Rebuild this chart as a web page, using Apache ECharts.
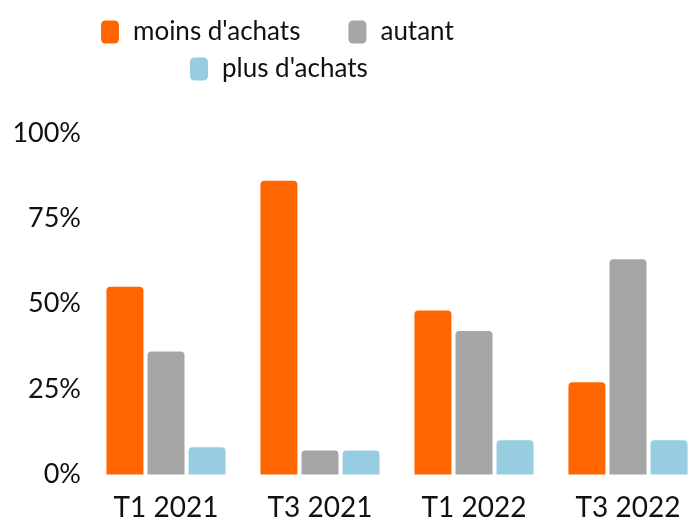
<!DOCTYPE html>
<html>
<head>
<meta charset="utf-8">
<script src="https://cdn.jsdelivr.net/npm/echarts@6/dist/echarts.min.js"></script>
<style>
  html, body { margin: 0; padding: 0; background: #fff; }
  #chart { width: 689px; height: 525px; }
</style>
</head>
<body>
<div id="chart"></div>
<script>
var categories = ["T1 2021", "T3 2021", "T1 2022", "T3 2022"];
var moinsAchats = [55, 86, 48, 27];
var autant = [36, 7, 42, 63];
var plusAchats = [8, 7, 10, 10];
var yTicks = [0, 25, 50, 75, 100];

var fontFamily = "Lato, 'Open Sans', sans-serif";

var chart = echarts.init(document.getElementById("chart"));

function barSeries(name, data, color) {
    return {
        name: name,
        type: "bar",
        data: data,
        barWidth: 37,
        barGap: "11%",
        itemStyle: { color: color, borderRadius: [4, 4, 0, 0] }
    };
}

var legendText = { fontFamily: fontFamily, fontSize: 26, color: "#111", padding: [0, 0, 0, 9] };

var option = {
    animation: false,
    legend: [
        {
            data: ["moins d'achats", "autant"],
            left: 96, top: 14,
            itemWidth: 18, itemHeight: 23, itemGap: 48,
            icon: "roundRect",
            textStyle: legendText
        },
        {
            data: ["plus d'achats"],
            left: 185, top: 51,
            itemWidth: 18, itemHeight: 23,
            icon: "roundRect",
            textStyle: legendText
        }
    ],
    grid: { left: 89, right: -16, top: 133, bottom: 50.5, outerBoundsMode: "none", containLabel: false },
    xAxis: {
        type: "category",
        data: categories,
        axisLine: { show: false },
        axisTick: { show: false },
        axisLabel: { fontFamily: fontFamily, fontSize: 28, color: "#111", margin: 19 }
    },
    yAxis: {
        type: "value",
        min: 0, max: 100, interval: 25,
        splitLine: { show: false },
        axisLine: { show: false },
        axisTick: { show: false },
        axisLabel: {
            fontFamily: fontFamily, fontSize: 27, color: "#111", margin: 8,
            formatter: function (v) { return yTicks.indexOf(v) >= 0 ? v + "%" : ""; }
        }
    },
    series: [
        barSeries("moins d'achats", moinsAchats, "#FF6600"),
        barSeries("autant", autant, "#A6A6A6"),
        barSeries("plus d'achats", plusAchats, "#96CDE1")
    ]
};
chart.setOption(option);
</script>
</body>
</html>
